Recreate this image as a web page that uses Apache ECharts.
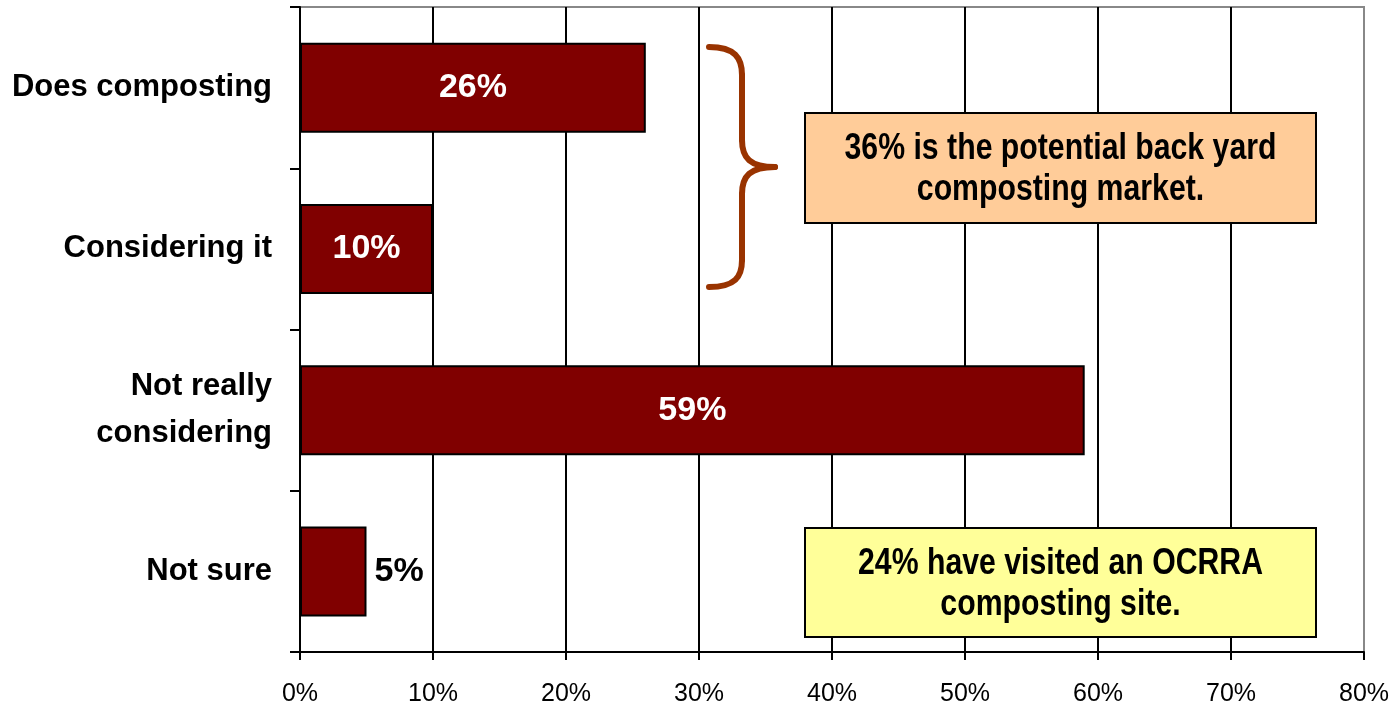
<!DOCTYPE html>
<html>
<head>
<meta charset="utf-8">
<script src="https://cdn.jsdelivr.net/npm/echarts@6/dist/echarts.min.js"></script>
<style>
  html, body { margin: 0; padding: 0; background: #fff; }
  #chart { width: 1394px; height: 710px; }
</style>
</head>
<body>
<div id="chart"></div>
<script>
// answers, top to bottom
const categories = ["Does composting", "Considering it", "Not really\nconsidering", "Not sure"];
const percentValues = [26, 10, 59, 5];
const xTicks = [0, 10, 20, 30, 40, 50, 60, 70, 80];
const noteMarket = "36% is the potential back yard\ncomposting market.";
const noteVisited = "24% have visited an OCRRA\ncomposting site.";

const plainFont = '"Liberation Sans", Arial, sans-serif';

const myChart = echarts.init(document.getElementById("chart"));

// curly brace next to the first two bars, built from curve pieces
const braceStyle = { fill: null, stroke: "#993300", lineWidth: 6, lineCap: "round" };
const brace = [
  { type: "bezierCurve", shape: { x1: 709, y1: 47, cpx1: 735, cpy1: 47, cpx2: 742, cpy2: 58, x2: 742, y2: 75 } },
  { type: "line", shape: { x1: 742, y1: 75, x2: 742, y2: 140 } },
  { type: "bezierCurve", shape: { x1: 742, y1: 140, cpx1: 742, cpy1: 158, cpx2: 750, cpy2: 167, x2: 775, y2: 167 } },
  { type: "bezierCurve", shape: { x1: 775, y1: 167, cpx1: 750, cpy1: 167, cpx2: 742, cpy2: 176, x2: 742, y2: 194 } },
  { type: "line", shape: { x1: 742, y1: 194, x2: 742, y2: 260 } },
  { type: "bezierCurve", shape: { x1: 742, y1: 260, cpx1: 742, cpy1: 277, cpx2: 735, cpy2: 287, x2: 709, y2: 287 } }
].map(el => Object.assign(el, { z: 10, style: braceStyle }));

// note box: rectangle plus narrow-looking bold text
function noteBox(x, y, w, h, fill, text) {
  return [
    {
      type: "rect", z: 10,
      shape: { x: x, y: y, width: w, height: h },
      style: { fill: fill, stroke: "#000", lineWidth: 2 }
    },
    {
      type: "text", z: 11,
      x: x + w / 2, y: y + h / 2 + 2, scaleX: 0.84,
      style: {
        text: text, fill: "#000", align: "center", verticalAlign: "middle",
        font: 'bold 36px ' + plainFont, lineHeight: 41
      }
    }
  ];
}

const option = {
  animation: false,
  grid: {
    left: 300, right: 30, top: 7, bottom: 58,
    show: true, borderColor: "#888", borderWidth: 2
  },
  xAxis: {
    type: "value",
    min: xTicks[0],
    max: xTicks[xTicks.length - 1],
    interval: 10,
    axisLine: { show: true, lineStyle: { color: "#000", width: 2 } },
    axisTick: { show: true, length: 8, lineStyle: { color: "#000", width: 2 } },
    axisLabel: {
      formatter: "{value}%", color: "#000", fontSize: 25,
      fontFamily: plainFont, margin: 30
    },
    splitLine: {
      show: true,
      lineStyle: { color: ["#000", "#000", "#000", "#000", "#000", "#000", "#000", "#000", "#888"], width: 2 }
    }
  },
  yAxis: {
    type: "category",
    inverse: true,
    data: categories,
    axisLine: { show: true, lineStyle: { color: "#000", width: 2 } },
    axisTick: { show: true, length: 10, lineStyle: { color: "#000", width: 2 } },
    axisLabel: {
      color: "#000", fontSize: 31, fontWeight: "bold",
      fontFamily: plainFont, margin: 28, lineHeight: 47, align: "right"
    }
  },
  series: [{
    type: "bar",
    data: percentValues.map(v => ({
      value: v,
      label: v < 8
        ? { position: "right", color: "#000", distance: 8 }
        : { position: "inside", color: "#fff" }
    })),
    barWidth: 90,
    itemStyle: { color: "#800000", borderColor: "#000", borderWidth: 2 },
    label: {
      show: true,
      formatter: "{c}%",
      fontSize: 34, fontWeight: "bold", fontFamily: plainFont
    }
  }],
  graphic: brace
    .concat(noteBox(805, 113, 511, 110, "#FFCC99", noteMarket))
    .concat(noteBox(805, 528, 511, 109, "#FFFF99", noteVisited))
};

myChart.setOption(option);
</script>
</body>
</html>
